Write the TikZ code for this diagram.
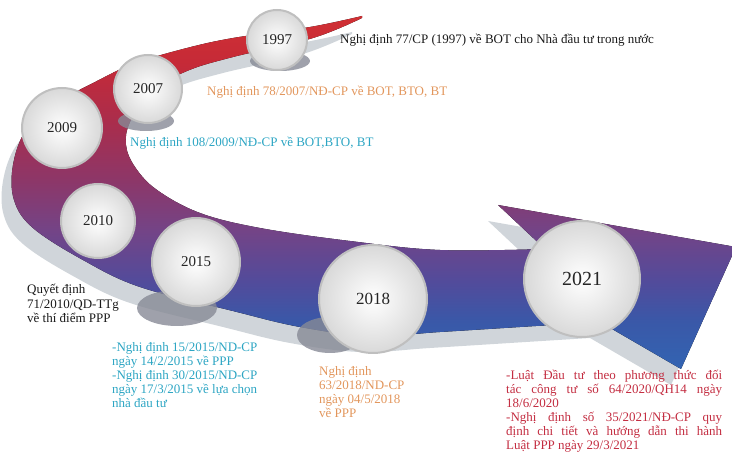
\documentclass[tikz,border=0pt]{standalone}
\usepackage{fontspec}
\setmainfont{Liberation Serif}
\usepackage{xcolor}
\usepackage{tikz}
\usetikzlibrary{shapes.geometric, positioning}
\definecolor{bandblue}{RGB}{50,100,178}
\definecolor{bandblueb}{RGB}{58,88,168}
\definecolor{bandindigo}{RGB}{82,75,155}
\definecolor{bandpurple}{RGB}{115,68,135}
\definecolor{bandplum}{RGB}{140,55,105}
\definecolor{bandmaroon}{RGB}{170,45,76}
\definecolor{bandred}{RGB}{198,42,55}
\definecolor{bandredtop}{RGB}{208,48,52}
\definecolor{bandshadow}{RGB}{208,213,218}
\definecolor{blobgray}{RGB}{135,138,150}
\definecolor{noteorange}{RGB}{226,150,92}
\definecolor{noteteal}{RGB}{44,165,195}
\definecolor{notered}{RGB}{195,45,65}
\pgfdeclareverticalshading{bandshade}{100bp}{color(0bp)=(bandblue); color(25bp)=(bandblue); color(31.8bp)=(bandblueb); color(37.4bp)=(bandindigo); color(44.5bp)=(bandpurple); color(51.6bp)=(bandplum); color(60bp)=(bandmaroon); color(68.5bp)=(bandred); color(75bp)=(bandredtop); color(100bp)=(bandredtop)}
\newcommand{\bandpath}{plot[smooth, tension=0.6] coordinates {(362,16) (310,27) (233,38) (183,49) (133,64) (97,81) (55,104) (26,130) (13,165) (14,200) (33,228) (83,260) (140,287) (233,311) (300,327) (370,336) (440,332) (520,327) (600,322)} -- (681,369) -- (736,247) -- (498,205) -- plot[smooth, tension=0.6] coordinates {(545,249) (440,250) (350,241) (260,228) (200,213) (157,190) (135,167) (126,145) (130,122) (150,92) (187,71) (233,57) (313,38) (362,18)} -- cycle}
\tikzstyle{sphere} = [circle, draw=gray!50, line width=2pt, shading=radial, inner color=white, outer color=gray!30, text=black!85, inner sep=0pt]
\tikzstyle{blob} = [fill=blobgray, fill opacity=0.8]
\tikzstyle{note} = [inner sep=0pt, font=\fontsize{13}{14}\selectfont, align=left, text=black!90]

\begin{document}
\begin{tikzpicture}[x=1pt, y=-1pt]
\useasboundingbox (0,0) rectangle (732,454);
\clip (0,0) rectangle (732,454);
% the ribbon and its pale shadow
\fill[bandshadow, shift={(-10,16)}] \bandpath;
\fill[shading=bandshade] \bandpath;
\fill[blob] (280,61) ellipse [x radius=30, y radius=10];
\fill[blob] (146,121) ellipse [x radius=28, y radius=10];
\fill[blob] (177,308) ellipse [x radius=40, y radius=18];
\fill[blob] (330,335) ellipse [x radius=33, y radius=18];

\node (y1997) [sphere, minimum size=60pt, font=\fontsize{15}{15}\selectfont] at (277,40) {1997};
\node (y2007) [sphere, minimum size=68pt, font=\fontsize{15}{15}\selectfont] at (148,89) {2007};
\node (y2009) [sphere, minimum size=80pt, font=\fontsize{15}{15}\selectfont] at (62,128) {2009};
\node (y2010) [sphere, minimum size=74pt, font=\fontsize{15}{15}\selectfont] at (98,221) {2010};
\node (y2015) [sphere, minimum size=88pt, font=\fontsize{15}{15}\selectfont] at (196,262) {2015};
\node (y2018) [sphere, minimum size=108pt, font=\fontsize{17}{17}\selectfont] at (373,299) {2018};
\node (y2021) [sphere, minimum size=116pt, font=\fontsize{20}{20}\selectfont] at (582,279) {2021};

\node (n1997) [note, anchor=west] at (340,40) {Nghị định 77/CP (1997) về BOT cho Nhà đầu tư trong nước};
\node (n2007) [note, anchor=west, text=noteorange] at (207,92) {Nghị định 78/2007/NĐ-CP về BOT, BTO, BT};
\node (n2009) [note, anchor=west, text=noteteal] at (130,143) {Nghị định 108/2009/NĐ-CP về BOT,BTO, BT};
\node (n2010) [note, anchor=north west, font=\fontsize{13}{14.5}\selectfont] at (27,284) {Quyết định\\71/2010/QD-TTg\\về thí điểm PPP};
\node (n2015) [note, anchor=north west, text=noteteal] at (112,342) {-Nghị định 15/2015/ND-CP\\ngày 14/2/2015 về PPP\\-Nghị định 30/2015/ND-CP\\ngày 17/3/2015 về lựa chọn\\nhà đầu tư};
\node (n2018) [note, anchor=north west, text=noteorange] at (319,366) {Nghị định\\63/2018/ND-CP\\ngày 04/5/2018\\về PPP};
\node (n2021) [note, anchor=north west, text=notered] at (506,370) {\makebox[216pt][s]{-Luật Đầu tư theo phương thức đối}\\\makebox[216pt][s]{tác công tư số 64/2020/QH14 ngày}\\18/6/2020\\\makebox[216pt][s]{-Nghị định số 35/2021/NĐ-CP quy}\\\makebox[216pt][s]{định chi tiết và hướng dẫn thi hành}\\Luật PPP ngày 29/3/2021};
\end{tikzpicture}
\end{document}
